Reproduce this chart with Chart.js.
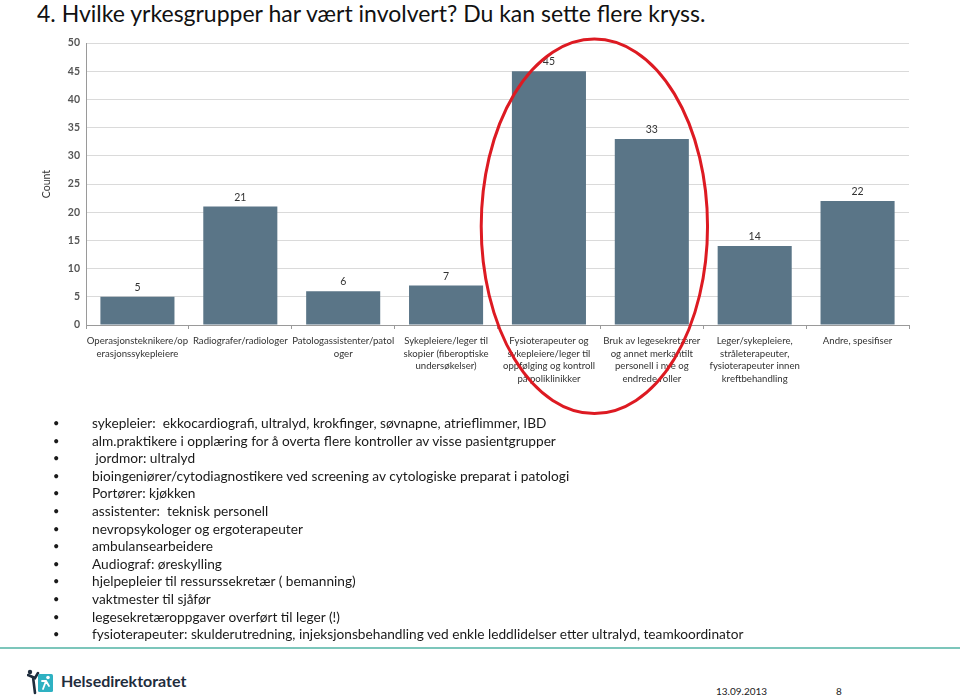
<!DOCTYPE html>
<html>
<head>
<meta charset="utf-8">
<script src="https://cdn.jsdelivr.net/npm/chart.js@4.4.1/dist/chart.umd.min.js"></script>
<style>
  body { margin: 0; width: 960px; height: 697px; background: #fff; position: relative; overflow: hidden; font-family: Lato, "Open Sans", sans-serif; }
  #title { position: absolute; left: 37px; top: -1px; font-size: 23px; color: #111; white-space: nowrap; }
  #chartWrap { position: absolute; left: 40px; top: 30px; width: 880px; height: 390px; }
  #notes { position: absolute; left: 0; top: 414px; margin: 0; padding: 0; list-style: none; font-size: 13.7px; color: #1a1a1a; }
  #notes li { position: relative; height: 17.6px; line-height: 17.6px; padding-left: 92px; white-space: nowrap; }
  #notes li::before { content: "\2022"; position: absolute; left: 53px; font-size: 11px; }
  #rule { position: absolute; left: 0; top: 647px; width: 960px; height: 2px; background: #7cc6bb; }
  #logo { position: absolute; left: 27px; top: 669px; }
  #brand { position: absolute; left: 61px; top: 671px; font-size: 16px; font-weight: bold; color: #1f2d3d; }
  #date { position: absolute; left: 716px; top: 685px; font-size: 10px; color: #222; }
  #page { position: absolute; left: 836px; top: 685px; font-size: 10px; color: #222; }
</style>
</head>
<body>
<div id="title">4. Hvilke yrkesgrupper har vært involvert? Du kan sette flere kryss.</div>
<div id="chartWrap"><canvas id="chart"></canvas></div>
<ul id="notes"></ul>
<div id="rule"></div>
<svg id="logo" width="30" height="26" viewBox="0 0 30 26">
  <circle cx="3" cy="3" r="2.2" fill="#1f2d3d"/>
  <path d="M1 6 L8 9 L11 4 M6 8 L8 24" stroke="#1f2d3d" stroke-width="2.6" fill="none" stroke-linecap="round"/>
  <rect x="11" y="5" width="15" height="18" rx="1.5" fill="#2eb1c2"/>
  <circle cx="21" cy="8.5" r="1.8" fill="#fff"/>
  <path d="M15 12 L19 12 L22 17 M19 12 L16 20" stroke="#fff" stroke-width="1.8" fill="none" stroke-linecap="round"/>
</svg>
<div id="brand">Helsedirektoratet</div>
<div id="date">13.09.2013</div>
<div id="page">8</div>

<script>
// Chart data
const categories = [
    ['Operasjonsteknikere/op', 'erasjonssykepleiere'],
    ['Radiografer/radiologer'],
    ['Patologassistenter/patol', 'oger'],
    ['Sykepleiere/leger til', 'skopier (fiberoptiske', 'undersøkelser)'],
    ['Fysioterapeuter og', 'sykepleiere/leger til', 'oppfølging og kontroll', 'på poliklinikker'],
    ['Bruk av legesekretærer', 'og annet merkantilt', 'personell i nye og', 'endrede roller'],
    ['Leger/sykepleiere,', 'stråleterapeuter,', 'fysioterapeuter innen', 'kreftbehandling'],
    ['Andre, spesifiser']
];
const counts = [5, 21, 6, 7, 45, 33, 14, 22];
const yMax = 50;
const yStep = 5;

// Circled categories (index range)
const circled = [4, 5];

const notes = [
    'sykepleier:  ekkocardiografi, ultralyd, krokfinger, søvnapne, atrieflimmer, IBD',
    'alm.praktikere i opplæring for å overta flere kontroller av visse pasientgrupper',
    ' jordmor: ultralyd',
    'bioingeniører/cytodiagnostikere ved screening av cytologiske preparat i patologi',
    'Portører: kjøkken',
    'assistenter:  teknisk personell',
    'nevropsykologer og ergoterapeuter',
    'ambulansearbeidere',
    'Audiograf: øreskylling',
    'hjelpepleier til ressurssekretær ( bemanning)',
    'vaktmester til sjåfør',
    'legesekretæroppgaver overført til leger (!)',
    'fysioterapeuter: skulderutredning, injeksjonsbehandling ved enkle leddlidelser etter ultralyd, teamkoordinator'
];

document.getElementById('notes').innerHTML = notes.map(n => `<li>${n.replace(/ /g, '&nbsp;')}</li>`).join('');

// value labels above bars + red ellipse
const overlayPlugin = {
    id: 'overlay',
    afterDatasetsDraw(chart) {
        const ctx = chart.ctx;
        const meta = chart.getDatasetMeta(0);
        ctx.save();
        ctx.font = '10.5px Lato, sans-serif';
        ctx.fillStyle = '#333';
        ctx.textAlign = 'center';
        ctx.textBaseline = 'bottom';
        meta.data.forEach((bar, i) => {
            ctx.fillText(counts[i], bar.x, bar.y - 4);
        });

        const x = chart.scales.x;
        const y = chart.scales.y;
        const x0 = x.getPixelForValue(circled[0]);
        const x1 = x.getPixelForValue(circled[1]);
        const cx = (x0 + x1) / 2 - 6;
        const cy = y.getPixelForValue(17.5);
        const rx = (x1 - x0) * 1.1;
        const ry = y.getPixelForValue(0) - y.getPixelForValue(33.2);
        ctx.beginPath();
        ctx.ellipse(cx, cy, rx, ry, 0, 0, Math.PI * 2);
        ctx.strokeStyle = '#dd1a22';
        ctx.lineWidth = 3;
        ctx.stroke();
        ctx.restore();
    }
};

const chart = new Chart(document.getElementById('chart').getContext('2d'), {
    type: 'bar',
    data: {
        labels: categories,
        datasets: [{
            label: 'Count',
            data: counts,
            backgroundColor: '#5a7587',
            barPercentage: 0.72,
            categoryPercentage: 1.0
        }]
    },
    options: {
        responsive: true,
        maintainAspectRatio: false,
        animation: false,
        layout: { padding: { top: 13, right: 11, bottom: 0, left: 0 } },
        plugins: {
            legend: { display: false },
            tooltip: { enabled: false }
        },
        scales: {
            x: {
                afterFit(scale) { scale.height = 95; },
                grid: { drawOnChartArea: false, tickLength: 4, color: '#9a9a9a' },
                border: { color: '#9a9a9a' },
                ticks: {
                    color: '#333',
                    font: { family: 'Lato', size: 9.6, lineHeight: 1.3 },
                    maxRotation: 0,
                    autoSkip: false,
                    padding: 6
                }
            },
            y: {
                min: 0,
                max: yMax,
                afterFit(scale) { scale.width = 46; },
                grid: { color: '#dadada', drawTicks: false },
                border: { color: '#9a9a9a' },
                ticks: {
                    stepSize: yStep,
                    color: '#555',
                    font: { family: 'Lato', size: 10.5, weight: 'bold' },
                    padding: 6
                },
                title: {
                    display: true,
                    text: 'Count',
                    color: '#333',
                    font: { family: 'Lato', size: 10.5 },
                    padding: 0
                }
            }
        }
    },
    plugins: [overlayPlugin]
});
</script>
</body>
</html>
